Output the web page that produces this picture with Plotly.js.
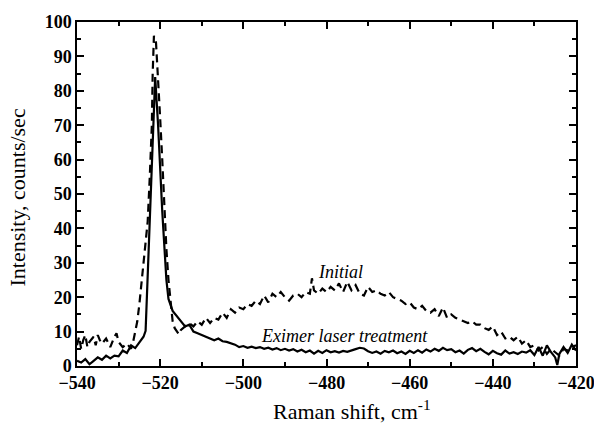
<!DOCTYPE html>
<html><head><meta charset="utf-8">
<script src="https://cdn.plot.ly/plotly-3.0.1.min.js"></script>
<style>html,body{margin:0;padding:0;background:#fff}#chart{width:594px;height:424px}</style>
</head><body><div id="chart"></div>
<script>
// Eximer laser treatment (solid)
const treatedX = [-540,-539,-538,-537,-536,-535,-534,-533,-532,-531,-530,-529,-528,-527,-526,-525,-524,-523.5,-522.5,-521.5,-521.2,-520.5,-519.5,-518.5,-518,-517,-516,-515,-514,-513,-512,-511,-510,-509,-508,-507,-506,-505,-504,-503,-502,-501,-500,-499,-498,-497,-496,-495,-494,-493,-492,-491,-490,-489,-488,-487,-486,-485,-484,-483,-482,-481,-480,-479,-478,-477,-476,-475,-474,-473,-472,-471,-470,-469,-468,-467,-466,-465,-464,-463,-462,-461,-460,-459,-458,-457,-456,-455,-454,-453,-452,-451,-450,-449,-448,-447,-446,-445,-444,-443,-442,-441,-440,-439,-438,-437,-436,-435,-434,-433,-432,-431,-430,-429,-428,-427,-426,-425,-424.5,-424,-423,-422,-421,-420];
const treatedY = [1.5,1.0,2.0,0.5,1.5,2.5,1.8,3.0,2.2,3.0,2.8,4.5,3.8,6.0,5.2,7.0,8.5,10.2,40,75,84,70,45,25,19.5,16,14.5,13,11.5,12,10,9.5,9,8.5,8.2,7.5,8.0,7.2,7.0,6.6,6.2,5.5,5.8,5.3,5.6,5.2,5.5,5.0,5.3,4.8,5.2,4.6,5.0,4.5,4.9,4.2,4.7,4.0,4.5,3.6,4.4,3.8,4.6,4.0,4.3,3.9,4.4,4.1,4.6,4.9,5.3,5.1,4.3,3.8,4.2,3.6,4.4,4.0,4.5,3.7,4.2,3.5,4.4,3.8,4.6,3.9,4.8,4.2,5.0,4.4,5.3,4.6,4.9,4.0,4.5,3.6,4.7,5.2,4.3,5.0,4.1,3.4,4.4,3.7,3.3,4.5,3.6,4.0,3.5,4.2,3.9,4.6,3.2,5.5,3.0,6.0,4.0,2.5,0.3,3.5,5.5,3.8,6.2,4.5];

// Initial (dashed)
const initialX = [-540,-539.5,-539,-538.5,-538,-537.5,-537,-536,-535.5,-535,-534.5,-534,-533,-532,-531,-530.5,-530,-529,-528,-527,-526.5,-526,-525.5,-525,-524.5,-524,-523.5,-523,-522.5,-522,-521.8,-521.5,-521,-520.5,-520,-519.5,-519,-518.5,-518,-517.5,-517,-516.5,-516,-515.5,-515,-514,-513,-512,-511,-510,-509,-508,-507,-506,-505,-504,-503,-502,-501,-500,-499,-498,-497,-496,-495,-494,-493,-492,-491,-490,-489,-488,-487,-486,-485,-484,-483.5,-483,-482,-481,-480,-479,-478,-477,-476,-475,-474,-473,-472,-471,-470,-469,-468,-467,-466,-465,-464,-463,-462,-461,-460,-459,-458,-457,-456,-455,-454,-453,-452,-451,-450,-449,-448,-447,-446,-445,-444,-443,-442,-441,-440,-439,-438,-437,-436,-435,-434,-433,-432,-431,-430,-429,-428,-427,-426,-425,-424,-423,-422,-421,-420];
const initialY = [6.0,8.5,5.0,7.5,9.0,5.5,7.0,8.5,6.0,9.0,7.5,6.5,8.0,5.5,8.5,9.5,7.0,5.5,6.5,5.0,7.0,10.5,13,18,24,30,34,42,55,70,85,96,94,84,72,60,45,34,25,18,13,11,10.0,9.2,10.5,11.5,12.5,11.5,13,12,14,12.5,14,13.5,15.5,14,16.5,15.5,17,16.5,18,17.5,19,18,20.5,18.5,21,20,21.5,20,19,20.5,21,20,21.5,21,25.5,22,21,22.5,21.5,23,22,24,21.5,24.5,22,23.5,21,20.5,23,21.5,22,21,20.5,21.5,20,19.5,19,18,18.5,17,16.5,17.5,16,15.5,16.5,14.5,17,14,15,14,13.5,13,12.5,13,12,12,11,10.5,11.5,9,10,8,8.5,7.5,8.5,6.5,7.5,5.5,6,4.5,5.5,3.5,5,4,3,5,4.5,5.5,6];

const xTickVals = [-540,-520,-500,-480,-460,-440,-420];
const yTickVals = [0,10,20,30,40,50,60,70,80,90,100];

const serif = 'Liberation Serif';

const traces = [
  {x: initialX, y: initialY, mode: 'lines', name: 'Initial',
   line: {color: '#000', width: 2.2, dash: '8px,5px'}},
  {x: treatedX, y: treatedY, mode: 'lines', name: 'Eximer laser treatment',
   line: {color: '#000', width: 2.2}}
];

const axisCommon = {
  showgrid: false, zeroline: false, showline: true, mirror: 'allticks',
  linecolor: '#000', linewidth: 1.5, ticks: 'inside', ticklen: 7, tickwidth: 1.5,
  tickcolor: '#000', ticklabeloverflow: 'allow',
  tickfont: {family: serif, size: 18, color: '#000', weight: 'bold'}
};

const layout = {
  width: 594, height: 424,
  margin: {l: 77, r: 18, t: 22, b: 58},
  paper_bgcolor: '#fff', plot_bgcolor: '#fff',
  showlegend: false,
  font: {family: serif, color: '#000'},
  xaxis: Object.assign({}, axisCommon, {
    range: [-540, -420], tickmode: 'array', tickvals: xTickVals,
    minor: {dtick: 10, ticks: 'inside', ticklen: 4, tickwidth: 1.5, tickcolor: '#000', showgrid: false}
  }),
  yaxis: Object.assign({}, axisCommon, {
    range: [0, 100], tickmode: 'array', tickvals: yTickVals,
    minor: {dtick: 5, ticks: 'inside', ticklen: 4, tickwidth: 1.5, tickcolor: '#000', showgrid: false}
  }),
  annotations: [
    {x: 0.551, y: -0.128, xref: 'paper', yref: 'paper', xanchor: 'center', yanchor: 'middle', showarrow: false,
     text: 'Raman shift, cm<sup>-1</sup>', font: {family: serif, size: 22, color: '#000'}},
    {x: -0.12, y: 0.49, xref: 'paper', yref: 'paper', xanchor: 'center', yanchor: 'middle', showarrow: false,
     textangle: -90, text: 'Intensity, counts/sec', font: {family: serif, size: 22, color: '#000'}},
    {x: -476.7, y: 27.3, xref: 'x', yref: 'y', xanchor: 'center', yanchor: 'middle', showarrow: false,
     text: '<i>Initial</i>', font: {family: serif, size: 18, color: '#000'}},
    {x: -475.7, y: 8.7, xref: 'x', yref: 'y', xanchor: 'center', yanchor: 'middle', showarrow: false,
     text: '<i>Eximer laser treatment</i>', font: {family: serif, size: 18, color: '#000'}}
  ]
};

Plotly.newPlot('chart', traces, layout, {displayModeBar: false});
</script></body></html>
